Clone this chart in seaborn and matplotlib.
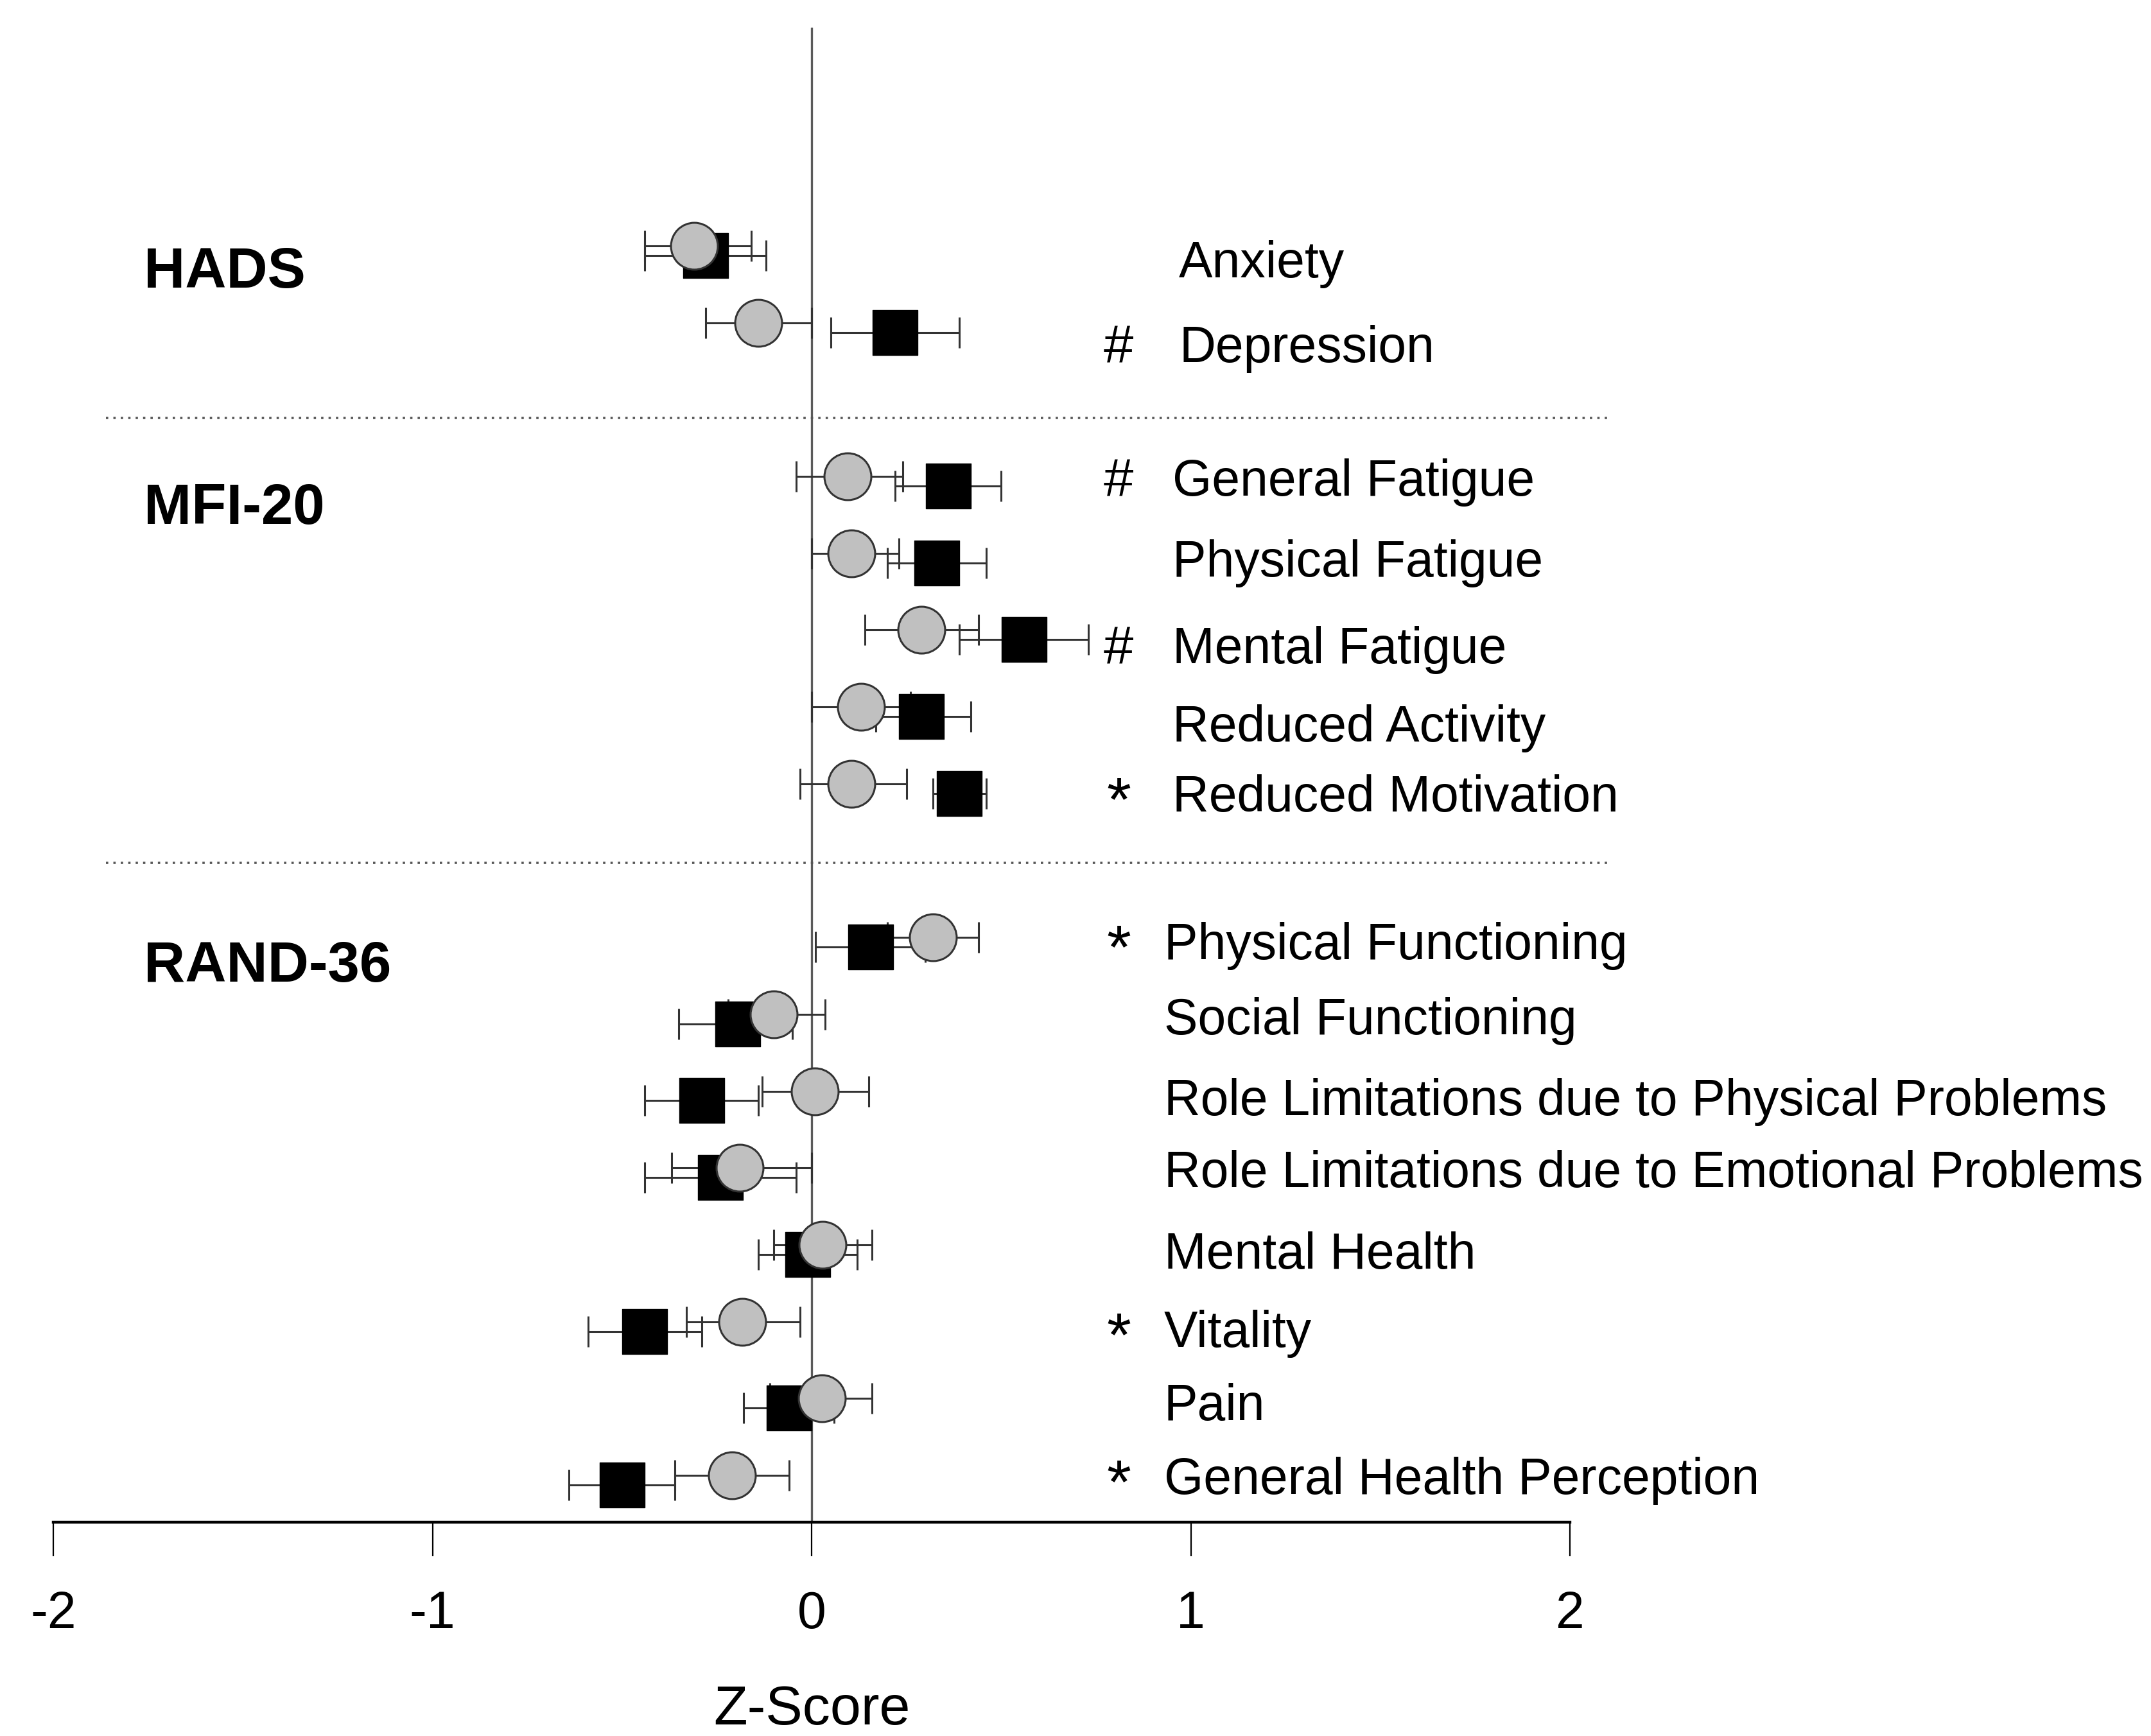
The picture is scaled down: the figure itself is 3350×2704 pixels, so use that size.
import matplotlib
matplotlib.use('Agg')
import matplotlib.pyplot as plt
import seaborn as sns
import pandas as pd
import numpy as np

# measures, top to bottom; row 2 and row 8 are the gaps between questionnaires
measures = ['Anxiety', 'Depression',
            'General Fatigue', 'Physical Fatigue', 'Mental Fatigue',
            'Reduced Activity', 'Reduced Motivation',
            'Physical Functioning', 'Social Functioning',
            'Role Limitations due to Physical Problems',
            'Role Limitations due to Emotional Problems',
            'Mental Health', 'Vitality', 'Pain', 'General Health Perception']
rows = [0, 1, 3, 4, 5, 6, 7, 9, 10, 11, 12, 13, 14, 15, 16]
questionnaire = ['HADS'] * 2 + ['MFI-20'] * 5 + ['RAND-36'] * 8
signif = ['', '#', '#', '', '#', '', '*', '*', '', '', '', '', '*', '', '*']
groups = ['HADS', 'MFI-20', 'RAND-36']

# black squares
square_z = [-0.28, 0.22, 0.36, 0.33, 0.56, 0.29, 0.39,
            0.155, -0.195, -0.29, -0.24, -0.01, -0.44, -0.06, -0.50]
square_lo = [-0.44, 0.05, 0.22, 0.20, 0.39, 0.17, 0.32,
             0.01, -0.35, -0.44, -0.44, -0.14, -0.59, -0.18, -0.64]
square_hi = [-0.12, 0.39, 0.50, 0.46, 0.73, 0.42, 0.46,
             0.30, -0.05, -0.14, -0.04, 0.12, -0.29, 0.06, -0.36]

# grey circles
circle_z = [-0.31, -0.14, 0.095, 0.105, 0.29, 0.13, 0.105,
            0.32, -0.10, 0.008, -0.19, 0.028, -0.183, 0.027, -0.21]
circle_lo = [-0.44, -0.28, -0.04, 0.0, 0.14, 0.0, -0.03,
             0.20, -0.22, -0.13, -0.37, -0.10, -0.33, -0.11, -0.36]
circle_hi = [-0.16, 0.0, 0.24, 0.23, 0.44, 0.26, 0.25,
             0.44, 0.035, 0.15, 0.0, 0.16, -0.03, 0.16, -0.06]

xticks = [-2, -1, 0, 1, 2]

# layout
sq_dy, ci_dy = 0.065, -0.06
label_x = {'HADS': 0.969, 'MFI-20': 0.951, 'RAND-36': 0.929}
label_dy = [0.18, 0.28, 0.02, 0.07, 0.20, 0.22, 0.13,
            0.05, 0.03, 0.08, 0.02, 0.08, 0.10, 0.05, 0.01]
group_y = [0.295, 3.365, 9.325]
sep_y = [2.18, 7.97]

sq = pd.DataFrame({'measure': measures, 'z': square_z,
                   'y': np.array(rows) + sq_dy,
                   'lo': square_lo, 'hi': square_hi})
ci = pd.DataFrame({'measure': measures, 'z': circle_z,
                   'y': np.array(rows) + ci_dy,
                   'lo': circle_lo, 'hi': circle_hi})

sns.set_style('white')
plt.rcParams['font.family'] = ['Liberation Sans', 'DejaVu Sans']
plt.rcParams['axes.unicode_minus'] = False
plt.rcParams['text.color'] = 'black'
plt.rcParams['axes.labelcolor'] = 'black'

fig = plt.figure(figsize=(16.75, 13.52), dpi=200)
ax = fig.add_axes([83 / 3350, 1 - 2371 / 2704, (2445 - 83) / 3350, (2371 - 43) / 2704])

ax.axvline(0, color='#5a5a5a', lw=1.2, zorder=1)

for d in (sq, ci):
    ax.errorbar(d['z'], d['y'], xerr=[d['z'] - d['lo'], d['hi'] - d['z']],
                fmt='none', ecolor='#333333', elinewidth=1.1,
                capsize=8.5, capthick=1.1, zorder=2)

sns.scatterplot(data=sq, x='z', y='y', marker='s', s=640, color='black',
                edgecolor='black', linewidth=0.5, zorder=3, ax=ax)
sns.scatterplot(data=ci, x='z', y='y', marker='o', s=690, color='#c0c0c0',
                edgecolor='#333333', linewidth=1.1, zorder=4, ax=ax)

for m, r, q, sg, dy in zip(measures, rows, questionnaire, signif, label_dy):
    ax.text(label_x[q], r + dy, m, fontsize=28.3, ha='left', va='center')
    if sg:
        ax.text(0.81, r + dy + (0.08 if sg == '*' else 0), sg,
                fontsize=35 if sg == '*' else 30, ha='center', va='center')

for g, gy in zip(groups, group_y):
    ax.text(-1.761, gy, g, fontsize=32, fontweight='bold', ha='left', va='center')

for yy in sep_y:
    ax.plot([-1.861, 2.098], [yy, yy], color='#555555', lw=1.3,
            ls=(0, (1, 2.2)), clip_on=False, zorder=1)

ax.set_xlim(-2, 2)
ax.set_ylim(16.55, -2.9)
ax.set_xticks(xticks)
ax.set_xticklabels([str(t) for t in xticks])
ax.set_yticks([])
ax.set_ylabel('')
ax.set_xlabel('Z-Score', fontsize=31, va='baseline')
ax.xaxis.set_label_coords(0.5, -(2686 - 2371) / 2328)
ax.tick_params(axis='x', bottom=True, direction='out', length=19, width=0.8,
               pad=19, labelsize=29, colors='black')
for s in ['top', 'left', 'right']:
    ax.spines[s].set_visible(False)
ax.spines['bottom'].set_linewidth(1.6)
ax.spines['bottom'].set_color('black')

fig.savefig('out.png', dpi=200, facecolor='white')
